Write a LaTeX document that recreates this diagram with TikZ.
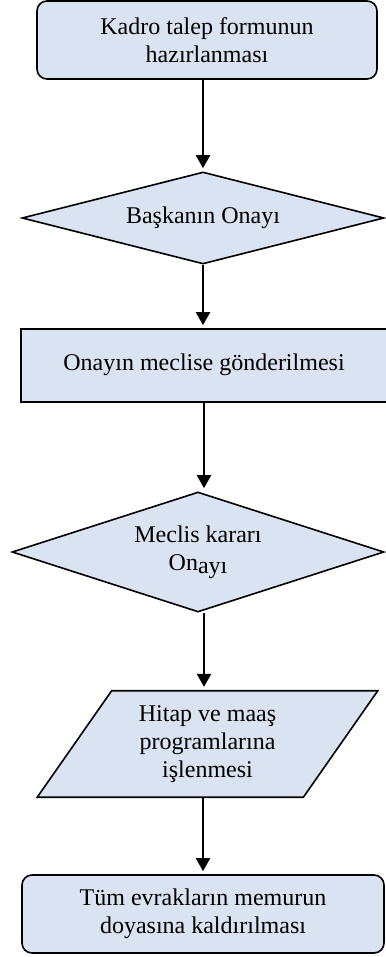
\documentclass[tikz,border=0pt]{standalone}
\usepackage{fontspec}
\setmainfont{Liberation Serif}
\usetikzlibrary{shapes.geometric,arrows.meta}

\definecolor{boxfill}{RGB}{218,227,242}

\tikzstyle{base} = [draw, line width=0.8pt, fill=boxfill, align=center,
     font=\fontsize{12}{13.8}\selectfont, inner sep=2pt]
\tikzstyle{block} = [base, rectangle, rounded corners=5pt]
\tikzstyle{plain} = [base, rectangle]
\tikzstyle{decision} = [base, diamond, shape aspect=3.5]
\tikzstyle{io} = [base, trapezium, trapezium left angle=55, trapezium right angle=125,
     inner sep=0pt]
\tikzstyle{arrow} = [draw, line width=1pt, -{Triangle[width=7pt,length=6.5pt]}, shorten >=1.5pt]

\begin{document}
\begin{tikzpicture}[x=0.5pt,y=-0.5pt]
\useasboundingbox (0,0) rectangle (385,957);

\node[block, minimum width=170pt, minimum height=39pt] (form) at (207,40)
     {Kadro talep formunun\\hazırlanması};
\node[decision, minimum width=181pt, minimum height=46pt] (baskan) at (203,218)
     {Başkanın Onayı};
\node[plain, minimum width=183pt, minimum height=36.5pt] (gonder) at (204,365.5)
     {\raisebox{3.5pt}{Onayın meclise gönderilmesi}};
\node[decision, minimum width=186pt, minimum height=60pt] (meclis) at (198,552)
     {Meclis kararı\\On\raisebox{-1.5pt}{ayı}};
\node[io, minimum width=170.5pt, minimum height=49pt] (hitap) at (207.5,744)
     {Hitap ve maaş\\programlarına\\işlenmesi};
\node[block, minimum width=181pt, minimum height=39pt] (evrak) at (203,914)
     {Tüm evrakların memurun\\doyasına kaldırılması};

\path[arrow] (form.south -| baskan.north) -- (baskan.north);
\path[arrow] (baskan.south) -- (baskan.south |- gonder.north);
\path[arrow] (gonder.south) -- (gonder.south |- meclis.north);
\path[arrow] (meclis.south -| gonder.south) -- (hitap.north -| gonder.south);
\path[arrow] (hitap.south -| evrak.north) -- (evrak.north);
\end{tikzpicture}
\end{document}
